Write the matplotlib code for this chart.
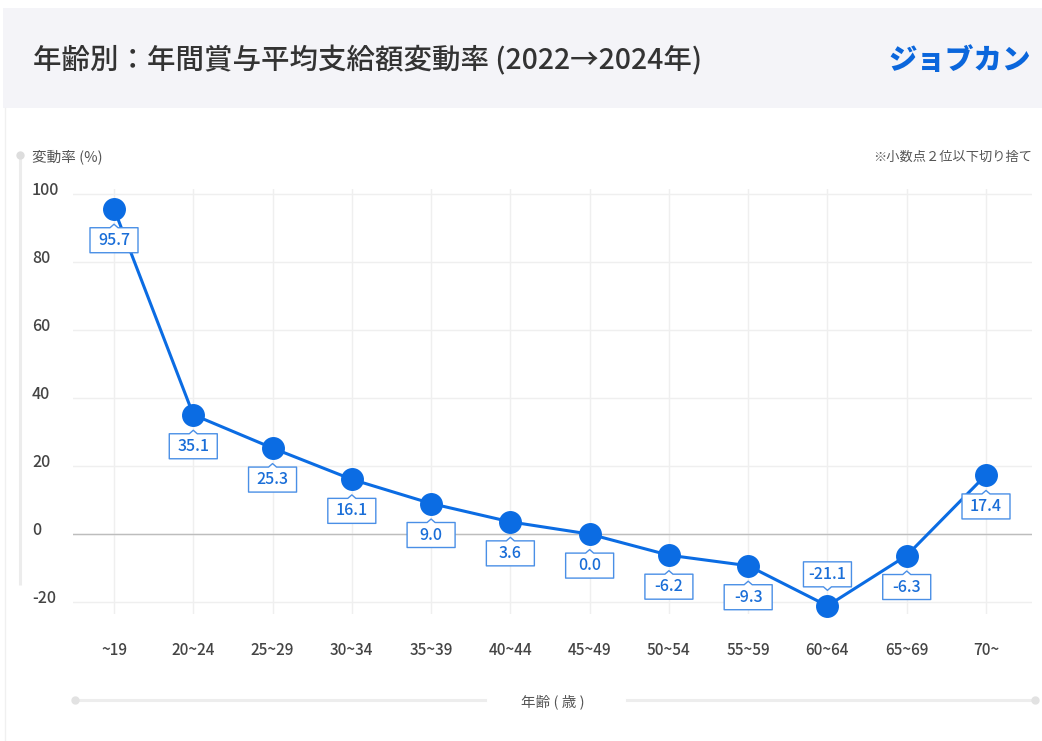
import matplotlib.pyplot as plt
import matplotlib.transforms as mtransforms
from matplotlib.patches import Rectangle, PathPatch
from matplotlib.path import Path
import numpy as np

plt.rcParams["font.family"] = ["Noto Sans CJK JP", "DejaVu Sans"]

age_groups = ["~19", "20~24", "25~29", "30~34", "35~39", "40~44",
              "45~49", "50~54", "55~59", "60~64", "65~69", "70~"]
change_rate = [95.7, 35.1, 25.3, 16.1, 9.0, 3.6, 0.0, -6.2, -9.3, -21.1, -6.3, 17.4]
y_ticks = [100, 80, 60, 40, 20, 0, -20]

TITLE = "年齢別：年間賞与平均支給額変動率 (2022→2024年)"
BLUE = "#0B6CE3"
GRAY_TEXT = "#444444"

W, H = 1042, 741
fig = plt.figure(figsize=(W / 100, H / 100), dpi=100)

# background layer in pixel coords (header, decorations)
bg = fig.add_axes([0, 0, 1, 1], zorder=0)
bg.set_xlim(0, W)
bg.set_ylim(H, 0)
bg.axis("off")
bg.add_patch(Rectangle((3, 8), W - 3, 100, facecolor="#F4F4F8", edgecolor="none"))
bg.plot([5, 5], [108, H], color="#F0F0F0", lw=1)
bg.text(33, 60, TITLE, fontsize=20.5, color="#333333", va="center", ha="left",
        weight="medium")
bg.text(1031, 60, "ジョブカン", fontsize=20.5, color="#0A66DC", weight="black",
        va="center", ha="right")

# y axis decoration
bg.plot([20, 20], [155, 585], color="#ECECEC", lw=2.2, solid_capstyle="butt")
bg.plot([20], [155], "o", color="#DDDDDD", ms=5)
bg.text(32, 157, "変動率 (%)", fontsize=10.5, color="#555555", va="center", ha="left")
bg.text(1032, 157, "※小数点２位以下切り捨て", fontsize=9.5, color="#555555",
        va="center", ha="right")

# x axis title bar
bg.plot([75, 485], [700, 700], color="#EDEDED", lw=2.2)
bg.plot([627, 1035], [700, 700], color="#EDEDED", lw=2.2)
bg.plot([75, 1035], [700, 700], "o", color="#E2E2E2", ms=5)
bg.text(553, 702, "年齢 ( 歳 )", fontsize=10.5, color="#555555", va="center", ha="center")

# main chart
ax = fig.add_axes([73 / W, (H - 614) / H, 959 / W, 425 / H], zorder=1)
ax.set_facecolor("none")
x = np.arange(len(age_groups))
ax.set_xlim(-41 / 79.27, len(age_groups) - 1 + 46 / 79.27)
ax.set_ylim(-23.5, 101.5)
for s in ax.spines.values():
    s.set_visible(False)
ax.set_xticks(x)
ax.set_yticks(y_ticks)
ax.tick_params(length=0, labelbottom=False, labelleft=False)
ax.grid(True, color="#EFEFEF", lw=1)
ax.set_axisbelow(True)
ax.axhline(0, color="#BDBDBD", lw=1, zorder=1)

for v in y_ticks:
    ax.text(-0.0428, v + 1.2, str(v), transform=ax.get_yaxis_transform(),
            fontsize=11.5, color=GRAY_TEXT, ha="left", va="center", weight="medium")
for i, lab in enumerate(age_groups):
    ax.text(i, -0.087, lab, transform=ax.get_xaxis_transform(),
            fontsize=11, color=GRAY_TEXT, ha="center", va="center", weight="medium")

ax.plot(x, change_rate, color=BLUE, lw=2.2, marker="o", ms=15.5,
        zorder=3, clip_on=False)

# value labels: boxes with a small notch pointing to the marker (sizes in inches)
bw, bh, gap, notch, nw = 0.24, 0.25, 0.19, 0.035, 0.04
lowest = int(np.argmin(change_rate))
for i, v in enumerate(change_rate):
    sgn = 1 if i == lowest else -1
    top = sgn * gap
    far = sgn * (gap + bh)
    verts = [(-nw, top), (0, sgn * (gap - notch)), (nw, top), (bw, top),
             (bw, far), (-bw, far), (-bw, top), (-nw, top)]
    trans = fig.dpi_scale_trans + mtransforms.ScaledTranslation(i, v, ax.transData)
    patch = PathPatch(Path(verts, closed=True), facecolor="white", edgecolor="#4A8FE6",
                      lw=1, transform=trans, zorder=4, clip_on=False, joinstyle="round")
    ax.add_artist(patch)
    ax.text(0, sgn * (gap + bh / 2), f"{v:.1f}", transform=trans, fontsize=11.5,
            color="#1A6ED8", ha="center", va="center", zorder=5, weight="medium")

fig.savefig("out.png", dpi=100, facecolor="white")
